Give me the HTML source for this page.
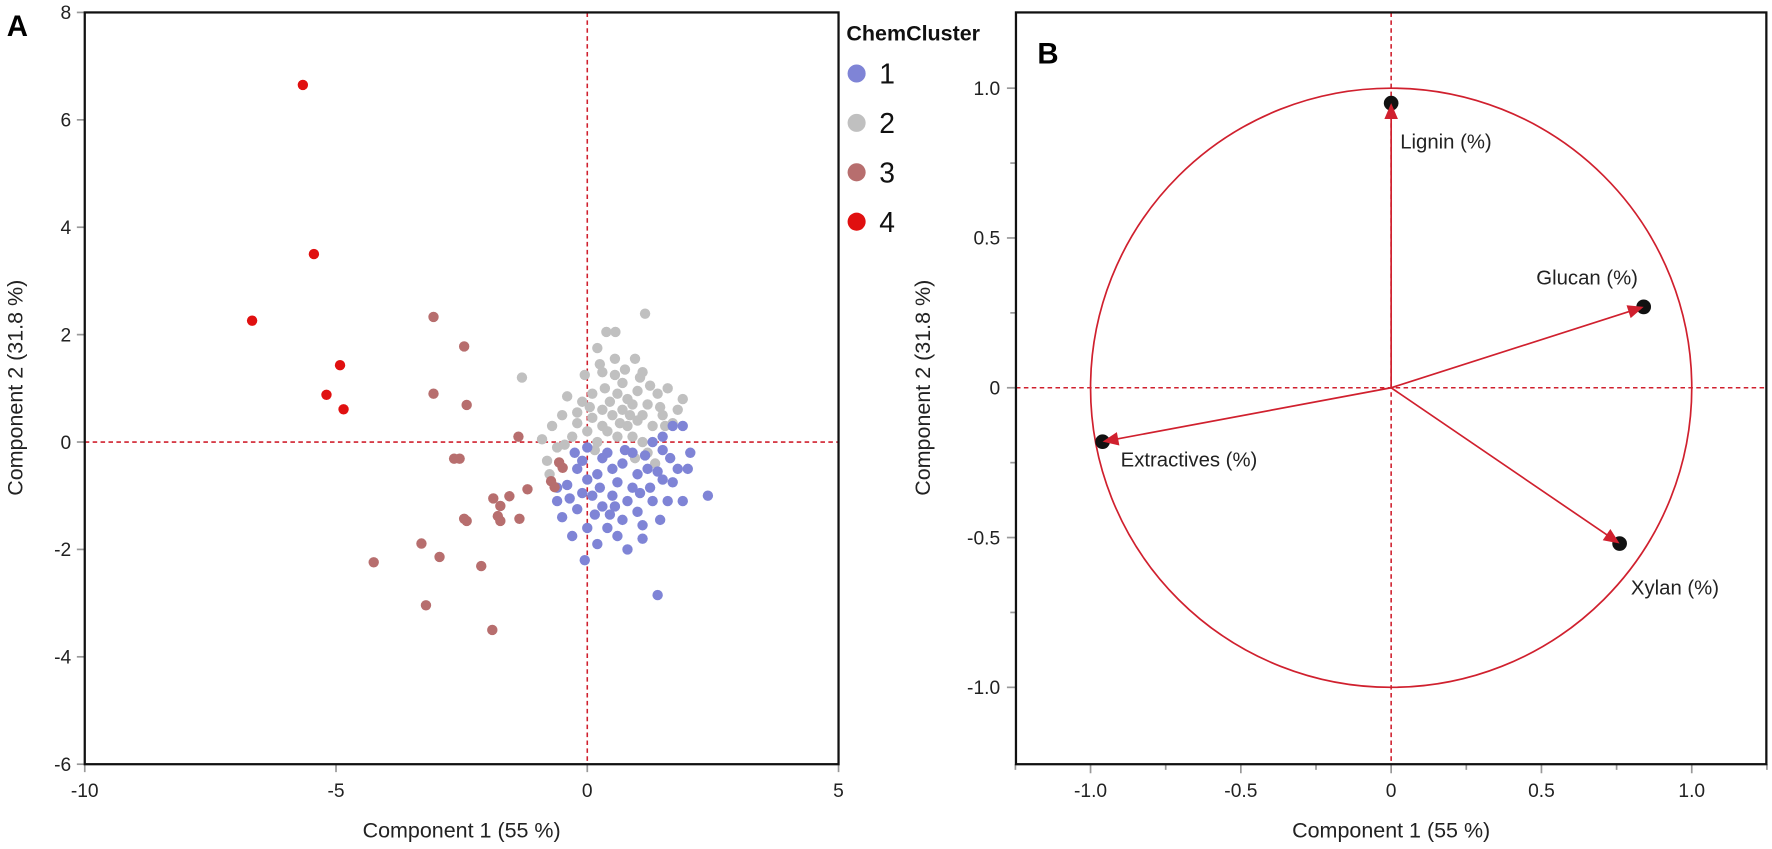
<!DOCTYPE html>
<html><head><meta charset="utf-8"><style>
html,body{margin:0;padding:0;background:#fff;}
svg{display:block;font-family:"Liberation Sans",sans-serif;}
</style></head><body>
<svg id="chart" width="1772" height="849" viewBox="0 0 1568 751" preserveAspectRatio="none" xmlns="http://www.w3.org/2000/svg"></svg>
<script>
// ---- Panel A data: scores ----
const cluster1 = [[0.3,-0.3],[0.5,-0.5],[0.7,-0.4],[1.0,-0.6],[1.2,-0.5],[1.5,-0.7],[1.8,-0.5],[2.0,-0.5],[1.7,0.3],[1.9,0.3],[2.05,-0.2],[1.5,0.1],[1.3,0.0],[0.9,-0.2],[0.2,-0.6],[0.0,-0.7],[-0.2,-0.5],[-0.4,-0.8],[-0.6,-1.1],[-0.5,-1.4],[-0.2,-1.25],[0.1,-1.0],[0.3,-1.2],[0.5,-1.0],[0.8,-1.1],[1.0,-1.3],[1.3,-1.1],[1.6,-1.1],[1.9,-1.1],[2.4,-1.0],[1.1,-1.55],[0.7,-1.45],[0.4,-1.6],[0.0,-1.6],[-0.3,-1.75],[0.2,-1.9],[0.8,-2.0],[1.1,-1.8],[0.6,-1.75],[-0.05,-2.2],[1.4,-2.85],[1.5,-0.15],[0.4,-0.2],[-0.1,-0.35],[0.6,-0.75],[0.9,-0.85],[1.25,-0.85],[-0.35,-1.05],[0.15,-1.35],[0.45,-1.35],[1.05,-0.95],[1.65,-0.3],[1.4,-0.55],[0.75,-0.15],[0.0,-0.1],[-0.6,-0.85],[-0.25,-0.2],[0.55,-1.2],[1.45,-1.45],[0.25,-0.85],[-0.1,-0.95],[1.15,-0.25],[1.7,-0.75]];
const cluster2 = [[1.15,2.39],[0.38,2.05],[0.56,2.05],[0.2,1.75],[-1.3,1.2],[0.55,1.55],[0.95,1.55],[1.1,1.3],[0.3,1.3],[0.7,1.1],[-0.4,0.85],[-0.1,0.75],[0.1,0.9],[0.35,1.0],[0.6,0.9],[0.8,0.8],[1.0,0.95],[1.2,0.7],[1.4,0.9],[1.6,1.0],[1.8,0.6],[1.5,0.5],[1.3,0.3],[1.0,0.4],[0.8,0.3],[0.5,0.5],[0.3,0.6],[0.1,0.45],[-0.2,0.35],[-0.5,0.5],[-0.7,0.3],[-0.9,0.05],[-0.6,-0.1],[-0.3,0.1],[0.0,0.2],[0.2,0.0],[0.4,0.2],[0.6,0.1],[0.9,0.1],[1.1,0.0],[1.2,-0.2],[1.35,-0.4],[0.7,0.6],[0.9,0.7],[1.1,0.5],[1.25,1.05],[0.45,0.75],[0.65,0.35],[0.85,0.5],[-0.05,1.25],[0.25,1.45],[1.55,0.3],[1.7,0.35],[-0.75,-0.6],[-0.8,-0.35],[0.15,-0.15],[0.95,-0.3],[0.55,1.25],[1.05,1.2],[1.45,0.65],[0.3,0.3],[-0.45,-0.05],[0.75,1.35],[1.9,0.8],[-0.2,0.55],[0.05,0.65]];
const cluster3 = [[-3.06,2.33],[-2.45,1.78],[-3.06,0.9],[-2.4,0.69],[-1.37,0.1],[-2.65,-0.31],[-2.54,-0.31],[-1.19,-0.88],[-1.55,-1.01],[-1.87,-1.05],[-1.73,-1.19],[-1.78,-1.38],[-1.73,-1.47],[-2.45,-1.43],[-2.4,-1.47],[-1.35,-1.43],[-0.72,-0.73],[-0.65,-0.84],[-0.49,-0.48],[-0.56,-0.38],[-4.25,-2.24],[-3.3,-1.89],[-2.94,-2.14],[-2.11,-2.31],[-3.21,-3.04],[-1.89,-3.5]];
const cluster4 = [[-5.66,6.65],[-5.44,3.5],[-6.67,2.26],[-4.92,1.43],[-5.19,0.88],[-4.85,0.61]];
const xTicksA = [-10,-5,0,5];
const yTicksA = [-6,-4,-2,0,2,4,6,8];
// ---- Panel B data: loadings ----
const loadNames = ["Lignin (%)","Glucan (%)","Extractives (%)","Xylan (%)"];
const loadX = [0.0,0.84,-0.96,0.76];
const loadY = [0.95,0.27,-0.18,-0.52];
const xTicksB = ["-1.0","-0.5","0","0.5","1.0"];
const yTicksB = ["-1.0","-0.5","0","0.5","1.0"];

const NS="http://www.w3.org/2000/svg";
const svg=document.getElementById('chart');
function mk(tag,attrs,parent,text){const e=document.createElementNS(NS,tag);for(const k in attrs)e.setAttribute(k,attrs[k]);if(text!==undefined)e.textContent=text;(parent||svg).appendChild(e);return e;}

// Panel A scales
const A={l:75,r:742,t:11,b:676,x0:-10,x1:5,y0:-6,y1:8};
const ax=v=>A.l+(v-A.x0)/(A.x1-A.x0)*(A.r-A.l);
const ay=v=>A.b-(v-A.y0)/(A.y1-A.y0)*(A.b-A.t);
// Panel B scales
const B={l:899,r:1563,t:11,b:676};
const bx=v=>1231+v*266;
const by=v=>343-v*265;

// ---- Panel A ----
const gA=mk('g',{});


mk('text',{x:6,y:32,'font-size':26,'font-weight':'bold'},gA,'A');
xTicksA.forEach(v=>{
  const t=mk('line',{x1:ax(v),x2:ax(v),y1:A.b,y2:A.b+7,stroke:'#999','stroke-width':1.5},gA);
  
  const l=mk('text',{x:ax(v),y:A.b+29,'font-size':17,'text-anchor':'middle',fill:'#222'},gA,String(v));
  
});
yTicksA.forEach(v=>{
  const t=mk('line',{x1:A.l-7,x2:A.l,y1:ay(v),y2:ay(v),stroke:'#999','stroke-width':1.5},gA);
  
  const l=mk('text',{x:A.l-12,y:ay(v)+6,'font-size':17,'text-anchor':'end',fill:'#222'},gA,String(v));
  
});
const z1=mk('line',{x1:ax(0),x2:ax(0),y1:A.t,y2:A.b,stroke:'#d0202e','stroke-width':1.4,'stroke-dasharray':'4 3'},gA);

const z2=mk('line',{x1:A.l,x2:A.r,y1:ay(0),y2:ay(0),stroke:'#d0202e','stroke-width':1.4,'stroke-dasharray':'4 3'},gA);

const clusters=[[cluster2,'#c0c0c0'],[cluster1,'#7f84d6'],[cluster3,'#b76e6e'],[cluster4,'#e01010']];
clusters.forEach(([pts,col],ci)=>{
  pts.forEach(p=>{
    const c=mk('circle',{cx:ax(p[0]),cy:ay(p[1]),r:4.6,fill:col},gA);
    
    
  });
});
const frA=mk('rect',{x:A.l,y:A.t,width:A.r-A.l,height:A.b-A.t,fill:'none',stroke:'#111','stroke-width':2},gA);

mk('text',{x:(A.l+A.r)/2,y:741,'font-size':19,'text-anchor':'middle',fill:'#222'},gA,'Component 1  (55 %)');
mk('text',{x:0,y:0,'font-size':19,'text-anchor':'middle',fill:'#222',transform:'translate(20,343) rotate(-90)'},gA,'Component 2  (31.8 %)');

// legend
const lg=mk('g',{});


mk('text',{x:749,y:36,'font-size':19,'font-weight':'bold',fill:'#111'},lg,'ChemCluster');
[['1','#7f84d6'],['2','#c0c0c0'],['3','#b76e6e'],['4','#e01010']].forEach((e,i)=>{
  const y=65+i*43.7;
  const c=mk('circle',{cx:758,cy:y,r:8,fill:e[1]},lg);
  
  const t=mk('text',{x:778,y:y+9,'font-size':25,fill:'#111'},lg,e[0]);
  
});

// ---- Panel B ----
const gB=mk('g',{});


mk('text',{x:918,y:56,'font-size':26,'font-weight':'bold'},gB,'B');
xTicksB.forEach((s,i)=>{
  const v=parseFloat(s);
  const t=mk('line',{x1:bx(v),x2:bx(v),y1:B.b,y2:B.b+8,stroke:'#999','stroke-width':1.5},gB);
  
  const l=mk('text',{x:bx(v),y:B.b+29,'font-size':17,'text-anchor':'middle',fill:'#222'},gB,s);
  
});
yTicksB.forEach((s,i)=>{
  const v=parseFloat(s);
  const t=mk('line',{x1:B.l-8,x2:B.l,y1:by(v),y2:by(v),stroke:'#999','stroke-width':1.5},gB);
  
  const l=mk('text',{x:B.l-14,y:by(v)+6,'font-size':17,'text-anchor':'end',fill:'#222'},gB,s);
  
});
[-1.25,-0.75,-0.25,0.25,0.75,1.25].forEach(v=>{
  const t=mk('line',{x1:bx(v),x2:bx(v),y1:B.b,y2:B.b+5,stroke:'#999','stroke-width':1.5},gB);
  
  if(Math.abs(v)<1.25){const u=mk('line',{x1:B.l-5,x2:B.l,y1:by(v),y2:by(v),stroke:'#999','stroke-width':1.5},gB);
  }
});
const z3=mk('line',{x1:bx(0),x2:bx(0),y1:B.t,y2:B.b,stroke:'#d0202e','stroke-width':1.4,'stroke-dasharray':'4 3'},gB);

const z4=mk('line',{x1:B.l,x2:B.r,y1:by(0),y2:by(0),stroke:'#d0202e','stroke-width':1.4,'stroke-dasharray':'4 3'},gB);

const circ=mk('ellipse',{cx:bx(0),cy:by(0),rx:bx(1)-bx(0),ry:by(0)-by(1),fill:'none',stroke:'#d0202e','stroke-width':1.5},gB);

const labOff=[[8,40],[-95,-20],[16,22],[10,45]];
loadNames.forEach((n,i)=>{
  const x=bx(loadX[i]),y=by(loadY[i]),x0=bx(0),y0=by(0);
  const c=mk('circle',{cx:x,cy:y,r:6.5,fill:'#111'},gB);
  
  const ang=Math.atan2(y-y0,x-x0);
  const ln=mk('line',{x1:x0,y1:y0,x2:x-Math.cos(ang)*6,y2:y-Math.sin(ang)*6,stroke:'#d0202e','stroke-width':1.5},gB);
  
  const hx=x,hy=y,L=14,W=6;
  const bx1=hx-Math.cos(ang)*L,by1=hy-Math.sin(ang)*L;
  const pts=[[hx,hy],[bx1-Math.sin(ang)*W,by1+Math.cos(ang)*W],[bx1+Math.sin(ang)*W,by1-Math.cos(ang)*W]];
  const h=mk('polygon',{points:pts.map(p=>p.join(',')).join(' '),fill:'#d0202e'},gB);
  
  const t=mk('text',{x:x+labOff[i][0],y:y+labOff[i][1],'font-size':18,fill:'#222'},gB,n);
  
});
const frB=mk('rect',{x:B.l,y:B.t,width:B.r-B.l,height:B.b-B.t,fill:'none',stroke:'#111','stroke-width':2},gB);

mk('text',{x:1231,y:741,'font-size':19,'text-anchor':'middle',fill:'#222'},gB,'Component 1  (55 %)');
mk('text',{x:0,y:0,'font-size':19,'text-anchor':'middle',fill:'#222',transform:'translate(823,343) rotate(-90)'},gB,'Component 2  (31.8 %)');
</script>
</body></html>
